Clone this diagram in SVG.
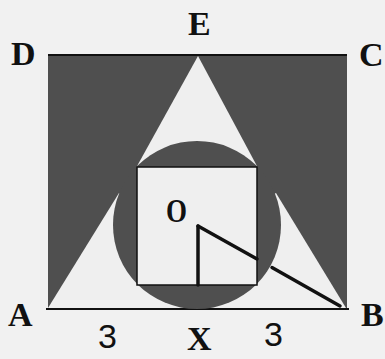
<svg xmlns="http://www.w3.org/2000/svg" width="385" height="359" viewBox="0 0 385 359">
  <style>
    .dark { fill: #4f4f4f; }
    .light { fill: #efefef; }
    .edge { stroke: #111; stroke-width: 2; fill: none; }
    .seg { stroke: #111; stroke-width: 3.5; stroke-linecap: round; fill: none; }
    .lbl { font-family: "Liberation Serif", "Times New Roman", serif; font-weight: bold; font-size: 34px; fill: #111; }
    .num { font-family: "Liberation Sans", Arial, sans-serif; font-size: 34px; fill: #111; }
  </style>
  <rect x="0" y="0" width="385" height="359" fill="#f1f1f1"/>
  <g id="square-ABCD">
    <rect x="48" y="55" width="299" height="254" class="dark"/>
    <line x1="48" y1="55" x2="347" y2="55" class="edge"/>
    <line x1="46" y1="309" x2="349" y2="309" class="edge"/>
  </g>
  <g id="triangles">
    <polygon points="198,56 136,168 258,168" class="light"/>
    <polygon points="48,308 119,193 150,210 198,308" class="light"/>
    <polygon points="198,308 245,210 276,193 346,308" class="light"/>
  </g>
  <g id="circle-O">
    <circle cx="197" cy="225" r="84" class="dark"/>
  </g>
  <g id="inner-square">
    <rect x="137" y="167" width="120" height="118" class="light" stroke="#111" stroke-width="1.5"/>
  </g>
  <g id="connectors">
    <line x1="198" y1="226" x2="198" y2="285" class="seg" stroke-width="3"/>
    <line x1="198" y1="226" x2="257" y2="259" class="seg"/>
    <line x1="272" y1="267.5" x2="340" y2="306" class="seg"/>
  </g>
  <g id="labels">
    <text x="11" y="65" class="lbl">D</text>
    <text x="188" y="35" class="lbl">E</text>
    <text x="359" y="66" class="lbl">C</text>
    <text x="8" y="326" class="lbl">A</text>
    <text x="361" y="326" class="lbl">B</text>
    <text x="166" y="222" class="lbl" textLength="21" lengthAdjust="spacingAndGlyphs">O</text>
    <text x="98" y="348" class="num">3</text>
    <text x="264" y="346" class="num">3</text>
    <text x="187" y="350" class="lbl" font-size="31">X</text>
  </g>
</svg>
